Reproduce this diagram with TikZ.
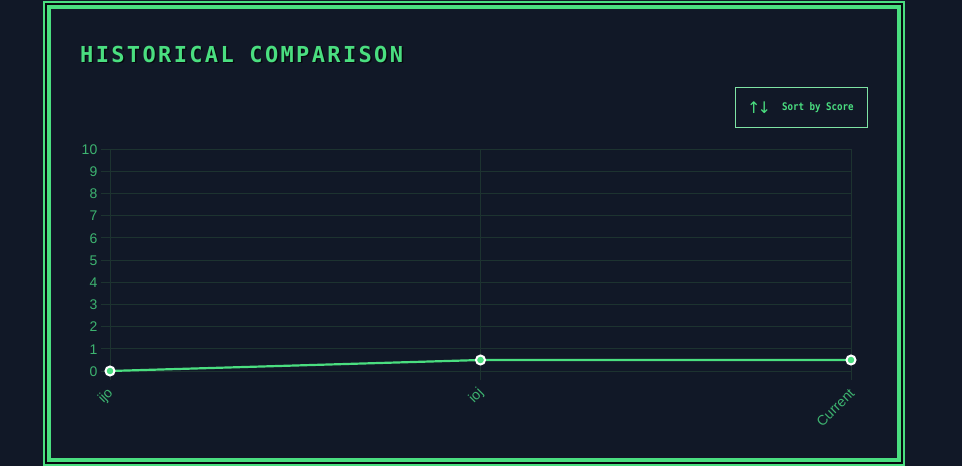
\documentclass[tikz,border=0pt]{standalone}
\usepackage{fontspec}
\setmainfont{Liberation Sans}
\newfontfamily\titlefont[LetterSpace=10.7]{DejaVu Sans Mono Bold}
\newfontfamily\btnfont[FakeStretch=0.87]{DejaVu Sans Mono Bold}
\newfontfamily\symfont{DejaVu Sans}
\definecolor{bg}{HTML}{111827}
\definecolor{gap}{HTML}{06090E}
\definecolor{neon}{HTML}{4ADE80}
\definecolor{btnline}{HTML}{7EE3A4}
\definecolor{grid}{HTML}{1D3330}
\definecolor{tick}{HTML}{3DB370}
\begin{document}
\begin{tikzpicture}[x=1pt,y=-1pt,
  gridline/.style={draw=grid,line width=1},
  ylab/.style={font=\fontsize{14}{14}\selectfont,text=tick,anchor=east,inner sep=0},
  xlab/.style={font=\fontsize{14}{14}\selectfont,text=tick,anchor=east,rotate=45,inner sep=0},
  pt/.style={circle,fill=neon,draw=white,line width=2,minimum size=9,inner sep=0}]
\fill[bg] (0,0) rectangle (962,466);
\useasboundingbox (0,0) rectangle (962,466);
% frame
\draw[neon,line width=2] (44,2) rectangle (903.7,465);
\draw[gap,line width=2] (46,4) rectangle (901.7,462.5);
\draw[neon,line width=4] (49,7) rectangle (898.7,459.7);
% title
\node[anchor=base west,inner sep=0,text=gap,font=\fontsize{22}{22}\selectfont\titlefont] (titleshadow) at (81.5,63.8) {HISTORICAL COMPARISON};
\node[anchor=base west,inner sep=0,text=neon,font=\fontsize{22}{22}\selectfont\titlefont] (title) at (80,62.3) {HISTORICAL COMPARISON};
% button
\node[draw=btnline,line width=1,minimum width=132,minimum height=40,inner sep=0] (btn) at (801.5,107.5) {};
\node[text=neon,font=\fontsize{16}{16}\selectfont\symfont,inner sep=0] (arrows) at (759,107.5) {↑\kern-3pt↓};
\node[text=neon,font=\fontsize{10.5}{10.5}\selectfont\btnfont,anchor=west,inner sep=0] (btntext) at (782,108) {Sort by Score};
% grid
\foreach \k in {0,...,10} {
  \draw[gridline] (101,{371-22.2*\k}) -- (851,{371-22.2*\k});
  \node[ylab] (y\k) at (97.5,{371.5-22.2*\k}) {\k};
}
\foreach \xx/\nm in {110/a,480.5/b,851/c} {
  \draw[gridline] (\xx,149) -- (\xx,380);
}
% data
\coordinate (p1) at (110,371);
\coordinate (p2) at (480.5,360);
\coordinate (p3) at (851,360);
\draw[neon,line width=2.2] (p1) -- (p2) -- (p3);
\node[pt] (m1) at (p1) {};
\node[pt] (m2) at (p2) {};
\node[pt] (m3) at (p3) {};
% x labels
\node[xlab] (l1) at (111,391) {ijo};
\node[xlab] (l2) at (481.5,391) {ioj};
\node[xlab] (l3) at (852,391) {Current};
\end{tikzpicture}
\end{document}
